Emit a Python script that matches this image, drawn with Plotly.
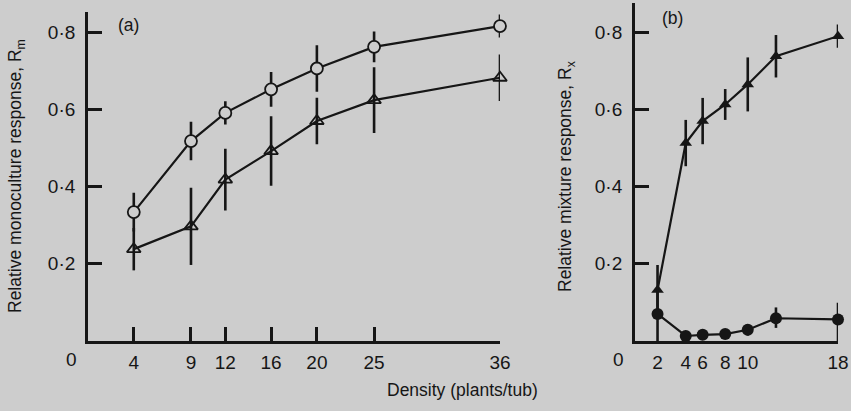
import plotly.graph_objects as go

# Panel (a): monoculture
density = [4, 9, 12, 16, 20, 25, 36]
mono_circle = [0.334, 0.518, 0.591, 0.652, 0.706, 0.762, 0.816]
mono_circle_err = [0.05, 0.05, 0.03, 0.045, 0.06, 0.04, 0.03]
mono_tri = [0.238, 0.297, 0.418, 0.492, 0.570, 0.624, 0.682]
mono_tri_err = [0.055, 0.10, 0.08, 0.09, 0.06, 0.085, 0.06]

# Panel (b): mixture
mix_density = [2, 4.5, 6, 8, 10, 12.5, 18]
mix_tri = [0.132, 0.513, 0.570, 0.613, 0.665, 0.738, 0.790]
mix_tri_err = [0.065, 0.06, 0.06, 0.04, 0.07, 0.055, 0.03]
mix_circ = [0.070, 0.013, 0.016, 0.018, 0.029, 0.059, 0.056]
mix_circ_err_up = [0.07, 0.01, 0.01, 0.01, 0.015, 0.028, 0.043]
mix_circ_err_dn = [0.07, 0.01, 0.01, 0.01, 0.015, 0.025, 0.056]

# Tick labels
a_xticks = [4, 9, 12, 16, 20, 25, 36]
a_xtext = ["4", "9", "12", "16", "20", "25", "36"]
b_xticks = [2, 4.5, 6, 8, 10, 18]
b_xtext = ["2", "4", "6", "8", "10", "18"]
yticks = [0.2, 0.4, 0.6, 0.8]
ytext = ["0·2", "0·4", "0·6", "0·8"]

INK = "#161616"
BG = "#cdcdcd"
FONT = "Liberation Sans, Arial, sans-serif"
TICK_SIZE = 19
TITLE_SIZE = 17.5

fig = go.Figure()

def err(arr, minus=None):
    d = dict(type="data", array=arr, visible=True, color=INK, thickness=2.6, width=0)
    if minus is not None:
        d["symmetric"] = False
        d["arrayminus"] = minus
    return d

fig.add_trace(go.Scatter(x=density, y=mono_tri, mode="lines+markers", xaxis="x", yaxis="y",
                         error_y=err(mono_tri_err), cliponaxis=False,
                         line=dict(color=INK, width=2.2),
                         marker=dict(symbol="triangle-up-open", size=12, color=INK, line=dict(width=1.8, color=INK))))
fig.add_trace(go.Scatter(x=density, y=mono_circle, mode="lines+markers", xaxis="x", yaxis="y",
                         error_y=err(mono_circle_err), cliponaxis=False,
                         line=dict(color=INK, width=2.2),
                         marker=dict(symbol="circle", size=12, color=BG, line=dict(width=1.8, color=INK))))

fig.add_trace(go.Scatter(x=mix_density, y=mix_tri, mode="lines+markers", xaxis="x2", yaxis="y2",
                         error_y=err(mix_tri_err), cliponaxis=False,
                         line=dict(color=INK, width=2.2),
                         marker=dict(symbol="triangle-up", size=11, color=INK)))
fig.add_trace(go.Scatter(x=mix_density, y=mix_circ, mode="lines+markers", xaxis="x2", yaxis="y2",
                         error_y=err(mix_circ_err_up, mix_circ_err_dn), cliponaxis=False,
                         line=dict(color=INK, width=2.2),
                         marker=dict(symbol="circle", size=12, color=INK)))

axis_common = dict(showgrid=False, zeroline=False, showline=True, linecolor=INK, linewidth=2.8,
                   ticks="inside", ticklen=14, tickwidth=2.6, tickcolor=INK,
                   tickfont=dict(family=FONT, size=TICK_SIZE, color=INK), fixedrange=True)

fig.update_layout(
    width=851, height=411,
    margin=dict(l=88, r=13, t=3, b=70),
    paper_bgcolor=BG, plot_bgcolor=BG,
    showlegend=False,
    font=dict(family=FONT, color=INK),
    xaxis=dict(domain=[0, 0.5493], range=[0, 36], anchor="y",
               tickmode="array", tickvals=a_xticks, ticktext=a_xtext, ticklabelstandoff=2, **axis_common),
    yaxis=dict(domain=[0, 0.973], range=[0, 0.852], anchor="x",
               tickmode="array", tickvals=yticks, ticktext=ytext, ticklabelstandoff=6, **axis_common),
    xaxis2=dict(domain=[0.7293, 1], range=[0, 18], anchor="y2",
                tickmode="array", tickvals=b_xticks, ticktext=b_xtext, ticklabelstandoff=2,
                **{**axis_common, "ticks": ""}),
    yaxis2=dict(domain=[0, 1], range=[0, 0.876], anchor="x2",
                tickmode="array", tickvals=yticks, ticktext=ytext, ticklabelstandoff=6, **axis_common),
)

ann_font = dict(family=FONT, size=TITLE_SIZE, color=INK)
tick_font = dict(family=FONT, size=TICK_SIZE, color=INK)
# (text, x_px, y_px_from_top, angle, font)
labels = [
    ("Relative monoculture response, R<sub>m</sub>", 16, 176, -90, ann_font),
    ("Relative mixture response, R<sub>x</sub>", 566, 177, -90, ann_font),
    ("Density (plants/tub)", 462, 390, 0, ann_font),
    ("(a)", 128, 25, 0, ann_font),
    ("(b)", 672, 18, 0, ann_font),
    ("0", 71, 359, 0, tick_font),
    ("0", 618, 359, 0, tick_font),
]
pw, ph = 851 - 88 - 13, 411 - 3 - 70
for text, px, py, ang, f in labels:
    fig.add_annotation(text=text, textangle=ang,
                       x=(px - 88) / pw, y=(411 - py - 70) / ph,
                       xref="paper", yref="paper", xanchor="center", yanchor="middle",
                       showarrow=False, font=f)

fig.write_html("out.html")
